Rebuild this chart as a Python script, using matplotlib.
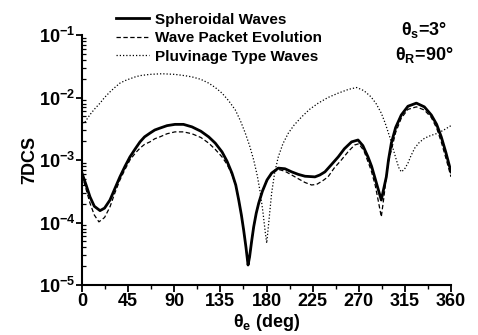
import matplotlib
matplotlib.use("Agg")
import matplotlib.pyplot as plt
import numpy as np
from matplotlib.ticker import MultipleLocator, LogLocator, NullFormatter

plt.rcParams['font.family'] = ['Liberation Sans', 'DejaVu Sans']
plt.rcParams['font.weight'] = 'bold'
plt.rcParams['mathtext.fontset'] = 'custom'
plt.rcParams['mathtext.rm'] = 'Liberation Sans:bold'
plt.rcParams['mathtext.bf'] = 'Liberation Sans:bold'
plt.rcParams['mathtext.it'] = 'Liberation Sans:bold'
plt.rcParams['mathtext.default'] = 'bf'

# Spheroidal waves (theta_e in deg, log10 of 7DCS)
sph_theta = [0, 4, 7.8, 12, 17.6, 22, 27.3, 32, 37, 42, 46.8, 52, 56.6, 61, 66.3,
             71, 76, 83, 90.7, 99, 107.3, 116, 123.6, 130, 136.6, 141.5, 146.3,
             150, 152.9, 155.5, 157.7, 160, 162, 163.5, 165.5, 167.5, 170, 172.4,
             176, 180.5, 185, 191.5, 198, 204.6, 211, 217.6, 227.3, 232, 237,
             243, 250, 256, 263, 269.3, 274, 279, 282.5, 285.5, 289, 292, 294.5,
             296.9, 299, 301.8, 306, 311.5, 318, 326.2, 334, 340.8, 346, 350.5,
             355, 360]
sph_log = [-3.21, -3.40, -3.59, -3.74, -3.81, -3.77, -3.64, -3.46, -3.27, -3.10,
           -2.95, -2.82, -2.71, -2.63, -2.57, -2.52, -2.49, -2.45, -2.43, -2.43,
           -2.47, -2.54, -2.63, -2.73, -2.87, -3.02, -3.21, -3.40, -3.64, -3.88,
           -4.12, -4.40, -4.68, -4.55, -4.30, -4.07, -3.85, -3.69, -3.50, -3.32,
           -3.21, -3.13, -3.14, -3.19, -3.23, -3.26, -3.27, -3.24, -3.19, -3.08,
           -2.95, -2.82, -2.71, -2.68, -2.77, -2.95, -3.10, -3.27, -3.47, -3.64,
           -3.45, -3.27, -3.00, -2.73, -2.48, -2.28, -2.14, -2.09, -2.15, -2.28,
           -2.43, -2.63, -2.88, -3.19]

# Wave packet evolution
wpe_theta = [0, 4, 7.8, 12, 16.5, 22, 27.3, 32, 37, 42, 46.8, 52, 56.6, 61, 66.3,
             71, 76, 83, 90.7, 99, 107.3, 116, 123.6, 130, 136.6, 141.5, 146.3,
             150, 152.9, 155.5, 157.7, 160, 162, 163.5, 165.5, 167.5, 170, 172.4,
             176, 180.5, 185, 191.5, 198, 204.6, 211, 217.6, 224, 229, 235, 240,
             246, 253, 260, 266, 270, 275, 282, 286, 289, 292, 294.5, 297, 299,
             301.8, 306, 311.5, 318, 326.2, 334, 340.8, 346, 350.5, 355, 360]
wpe_log = [-3.24, -3.47, -3.69, -3.88, -3.99, -3.92, -3.75, -3.53, -3.32, -3.15,
           -3.00, -2.89, -2.81, -2.75, -2.71, -2.66, -2.63, -2.58, -2.55, -2.55,
           -2.58, -2.64, -2.73, -2.83, -2.95, -3.07, -3.23, -3.41, -3.64, -3.88,
           -4.12, -4.40, -4.68, -4.55, -4.30, -4.07, -3.85, -3.69, -3.50, -3.33,
           -3.22, -3.15, -3.18, -3.24, -3.30, -3.36, -3.40, -3.39, -3.33, -3.27,
           -3.13, -3.00, -2.86, -2.76, -2.74, -2.85, -3.16, -3.40, -3.65, -3.91,
           -3.60, -3.25, -3.03, -2.84, -2.56, -2.33, -2.19, -2.15, -2.20, -2.32,
           -2.49, -2.71, -2.97, -3.27]

# Pluvinage type waves
plu_theta = [0, 3, 8, 12.5, 17.6, 22, 27.3, 32, 37, 42, 46.8, 52, 56.6, 66.3, 78,
             90.7, 100, 107.3, 116, 123.6, 130, 136.6, 143, 149.6, 154.5, 159.3,
             163.5, 167.5, 171, 174, 176.5, 178.9, 180.2, 182.5, 185, 188, 191.5,
             196, 201.3, 207, 214.3, 222, 230.5, 240, 250, 260, 268, 275, 282,
             287, 292, 296, 300.2, 303.5, 306.7, 309, 311.5, 314.5, 318, 321,
             324.6, 329, 334.3, 340, 347.3, 353, 360]
plu_log = [-2.42, -2.39, -2.27, -2.18, -2.09, -2.00, -1.91, -1.84, -1.77, -1.73,
           -1.70, -1.67, -1.65, -1.63, -1.62, -1.63, -1.65, -1.67, -1.71, -1.77,
           -1.84, -1.93, -2.05, -2.20, -2.37, -2.57, -2.77, -3.00, -3.25, -3.53,
           -3.83, -4.17, -4.33, -3.95, -3.53, -3.20, -2.95, -2.74, -2.57, -2.44,
           -2.31, -2.19, -2.09, -2.00, -1.93, -1.87, -1.84, -1.89, -1.99, -2.10,
           -2.25, -2.42, -2.63, -2.82, -3.00, -3.12, -3.19, -3.15, -3.05, -2.93,
           -2.81, -2.72, -2.65, -2.61, -2.57, -2.52, -2.45]

legend_labels = ["Spheroidal Waves", "Wave Packet Evolution", "Pluvinage Type Waves"]
x_ticks = [0, 45, 90, 135, 180, 225, 270, 315, 360]

fig = plt.figure(figsize=(4.78, 3.35), dpi=100)
ax = fig.add_axes([82/478, 1-285/335, (451-82)/478, (285-35)/335])

l1, = ax.plot(sph_theta, 10**np.array(sph_log), color='black', lw=2.0,
              solid_joinstyle='round')
l2, = ax.plot(wpe_theta, 10**np.array(wpe_log), color='black', lw=0.9, dashes=(3.5, 2))
l3, = ax.plot(plu_theta, 10**np.array(plu_log), color='black', lw=0.9, dashes=(1, 1.6))

ax.set_yscale('log')
ax.set_xlim(0, 360)
ax.set_ylim(1e-5, 1e-1)
ax.set_xticks(x_ticks)
ax.xaxis.set_minor_locator(MultipleLocator(22.5))
ax.yaxis.set_major_locator(LogLocator(base=10, numticks=10))
ax.yaxis.set_minor_locator(LogLocator(base=10, subs=np.arange(2, 10), numticks=20))
ax.yaxis.set_minor_formatter(NullFormatter())

for s in ['top', 'right']:
    ax.spines[s].set_visible(False)
for s in ['left', 'bottom']:
    ax.spines[s].set_linewidth(1.5)

ax.tick_params(axis='x', which='major', direction='out', length=5, width=1.3,
               labelsize=13, pad=1)
ax.tick_params(axis='x', which='minor', direction='out', length=3, width=1.0)
ax.tick_params(axis='y', which='major', direction='out', length=4, width=1.3,
               labelsize=13, pad=1)
ax.tick_params(axis='y', which='minor', direction='in', length=3, width=0.9)

ax.set_ylabel('7DCS', fontsize=13, fontweight='bold', labelpad=0)
ax.set_xlabel(r'$\theta_e$ (deg)', fontsize=13, fontweight='bold', labelpad=1)

leg = fig.legend([l1, l2, l3], legend_labels, loc='upper left',
                 bbox_to_anchor=(108/478, 1-5/335), frameon=False,
                 fontsize=11, handlelength=2.2, handletextpad=0.4,
                 labelspacing=0.3, borderpad=0)

fig.text(424/478, 1-30/335, r'$\theta_s$=3°', fontsize=13, ha='center', va='center')
fig.text(424/478, 1-55/335, r'$\theta_R$=90°', fontsize=13, ha='center', va='center')

fig.savefig('out.png', dpi=100)
